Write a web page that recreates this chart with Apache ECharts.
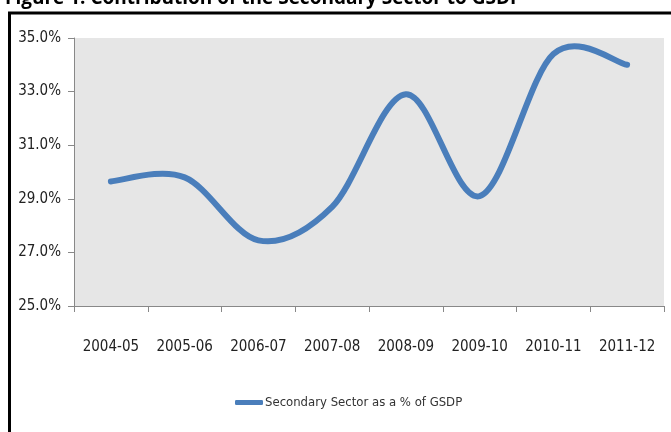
<!DOCTYPE html>
<html><head><meta charset="utf-8">
<script src="https://cdn.jsdelivr.net/npm/echarts@6/dist/echarts.min.js"></script>
<style>html,body{margin:0;padding:0;background:#fff}#c{width:671px;height:432px}</style>
</head><body><div id="c"></div>
<script>
const categories = ['2004-05','2005-06','2006-07','2007-08','2008-09','2009-10','2010-11','2011-12'];
const secondaryShare = [29.65, 29.8, 27.45, 28.7, 32.9, 29.1, 34.4, 34.0];
const yTicks = {min: 25, max: 35, interval: 2};
const seriesName = 'Secondary Sector as a % of GSDP';
const titleText = 'Figure 1: Contribution of the Secondary Sector to GSDP';

const F = "'DejaVu Sans Condensed','Liberation Sans Narrow','Open Sans',sans-serif";
const LINE = '#4a7ebb';
const chart = echarts.init(document.getElementById('c'), null, {renderer:'canvas'});

function renderCurve(params, api){
  if (params.dataIndex !== 0) return null;
  const pts = secondaryShare.map((v,i)=>api.coord([i, v]));
  const n = pts.length;
  const t = 1/6;
  let d = 'M' + pts[0][0] + ' ' + pts[0][1];
  for (let i=0;i<n-1;i++){
    const p0 = pts[Math.max(i-1,0)], p1 = pts[i], p2 = pts[i+1], p3 = pts[Math.min(i+2,n-1)];
    const c1 = [p1[0]+(p2[0]-p0[0])*t, p1[1]+(p2[1]-p0[1])*t];
    const c2 = [p2[0]-(p3[0]-p1[0])*t, p2[1]-(p3[1]-p1[1])*t];
    d += ' C' + c1[0]+' '+c1[1]+' '+c2[0]+' '+c2[1]+' '+p2[0]+' '+p2[1];
  }
  return {type:'path', shape:{pathData:d}, style:{fill:null, stroke:LINE, lineWidth:6, lineCap:'round', lineJoin:'round'}};
}

chart.setOption({
  animation:false,
  backgroundColor:'#fff',
  title:{text:titleText,left:0,top:-16,textStyle:{fontFamily:"'Open Sans',sans-serif",fontWeight:'bold',fontSize:19,color:'#000'}},
  graphic:[{type:'rect',shape:{x:9.5,y:13,width:700,height:500},style:{fill:null,stroke:'#000',lineWidth:3},z:-1}],
  grid:{left:74,right:7,top:38,bottom:126,show:true,backgroundColor:'#e6e6e6',borderWidth:0},
  legend:{bottom:18,left:230,itemWidth:28,itemHeight:5,itemGap:2,
    textStyle:{fontFamily:F,fontSize:13,color:'#333',padding:[0,0,0,-3]},
    data:[{name:seriesName,icon:'roundRect'}]},
  xAxis:{type:'category',data:categories,boundaryGap:true,
    axisLine:{lineStyle:{color:'#888',width:1}},
    axisTick:{show:true,length:6,lineStyle:{color:'#888'}},
    axisLabel:{fontFamily:F,fontSize:15,color:'#222',margin:34}},
  yAxis:{type:'value',min:yTicks.min,max:yTicks.max,interval:yTicks.interval,
    axisLine:{show:true,lineStyle:{color:'#888',width:1}},
    axisTick:{show:true,length:6,lineStyle:{color:'#888'}},
    splitLine:{show:false},
    axisLabel:{fontFamily:F,fontSize:15,color:'#222',margin:13,formatter:v=>v.toFixed(1)+'%'}},
  series:[{name:seriesName,type:'custom',renderItem:renderCurve,
    data:secondaryShare.map((v,i)=>[i,v]),encode:{x:0,y:1},
    itemStyle:{color:LINE}}]
});
</script></body></html>
